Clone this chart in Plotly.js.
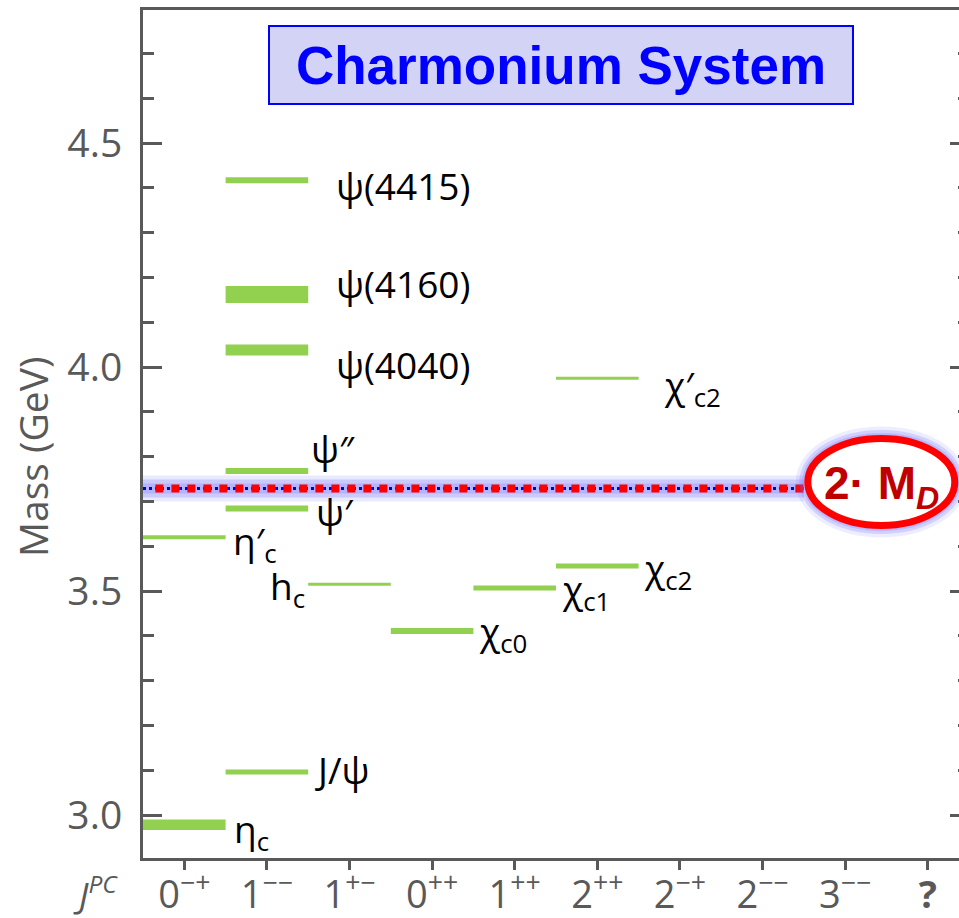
<!DOCTYPE html>
<html>
<head>
<meta charset="utf-8">
<script src="https://cdn.plot.ly/plotly-3.0.1.min.js"></script>
<style>
  html, body { margin: 0; padding: 0; overflow: hidden; background: #ffffff; }
  #chart { width: 985px; height: 918px; }
</style>
</head>
<body>
<div id="chart"></div>
<script>
// ---- data ----
const jpcLabels = ["0<sup>−+</sup>", "1<sup>−−</sup>", "1<sup>+−</sup>", "0<sup>++</sup>", "1<sup>++</sup>",
                   "2<sup>++</sup>", "2<sup>−+</sup>", "2<sup>−−</sup>", "3<sup>−−</sup>", "<b>?</b>"];
const stateNames = ["η<sub>c</sub>", "J/ψ", "η′<sub>c</sub>", "ψ′", "ψ″", "ψ(4040)", "ψ(4160)", "ψ(4415)",
                    "h<sub>c</sub>", "χ<sub>c0</sub>", "χ<sub>c1</sub>", "χ<sub>c2</sub>", "χ′<sub>c2</sub>"];
const stateJpcIndex = [0, 1, 0, 1, 1, 1, 1, 1, 2, 3, 4, 5, 5];
const stateMassGeV = [2.978, 3.096, 3.620, 3.684, 3.768, 4.038, 4.162, 4.417, 3.515, 3.411, 3.507, 3.556, 3.975];
const twoMD = 3.729;
const yTickVals = [3.0, 3.5, 4.0, 4.5];
const yTickText = ["3.0", "3.5", "4.0", "4.5"];

// ---- styles (not data) ----
const levelLineWidth = [10.5, 5, 4, 6, 6, 11, 17, 6, 3, 6, 5, 5, 3];
// label offsets in px: [xshift, yshift, side]
const labelStyle = [
  [6, -6, "r"], [5, 2, "r"], [5, -6, "r"], [6, -3, "r"], [1, 22, "r"], [26, -14, "r"], [26, 11, "r"],
  [26, -5, "r"], [-1, -4, "l"], [4, -2, "r"], [4, -3, "r"], [3, -4, "r"], [23, -9, "r"]
];
const green = "#92d050";
const axisGray = "#595959";

const traces = [];
stateNames.forEach((name, i) => {
  const c = stateJpcIndex[i];
  traces.push({
    type: "scatter", mode: "lines",
    x: [c - 0.5, c + 0.5], y: [stateMassGeV[i], stateMassGeV[i]],
    line: { color: green, width: levelLineWidth[i] },
    hoverinfo: "skip", showlegend: false, cliponaxis: true
  });
});

// 2·M_D threshold line with glow
const thrX = [-0.5, 7.5];
const thrY = [twoMD, twoMD];
traces.push({ type: "scatter", mode: "lines", x: thrX, y: thrY, line: { color: "rgba(110,110,255,0.15)", width: 26 }, hoverinfo: "skip", showlegend: false });
traces.push({ type: "scatter", mode: "lines", x: thrX, y: thrY, line: { color: "rgba(110,110,255,0.25)", width: 18 }, hoverinfo: "skip", showlegend: false });
traces.push({ type: "scatter", mode: "lines", x: thrX, y: thrY, line: { color: "rgba(110,110,255,0.25)", width: 10 }, hoverinfo: "skip", showlegend: false });
traces.push({ type: "scatter", mode: "lines", x: thrX, y: thrY, line: { color: "#0000dd", width: 3, dash: "3px,3px" }, hoverinfo: "skip", showlegend: false });
traces.push({ type: "scatter", mode: "lines", x: [-0.35, 7.5], y: thrY, line: { color: "#ff0000", width: 8, dash: "8px,8px" }, hoverinfo: "skip", showlegend: false });

const annotations = stateNames.map((name, i) => {
  const c = stateJpcIndex[i];
  const st = labelStyle[i];
  const right = st[2] === "r";
  return {
    x: right ? c + 0.5 : c - 0.5, y: stateMassGeV[i], xref: "x", yref: "y",
    text: name, showarrow: false,
    xanchor: right ? "left" : "right", yanchor: "middle",
    xshift: st[0], yshift: st[1],
    font: { family: "Open Sans", size: 37, color: "#000000" }
  };
});

annotations.push({
  x: 0.506, y: 0.935, xref: "paper", yref: "paper",
  text: "<b>Charmonium System</b>", showarrow: false,
  xanchor: "center", yanchor: "middle",
  width: 582, height: 76, borderpad: 0,
  bgcolor: "#d3d3f5", bordercolor: "#0000ff", borderwidth: 2,
  font: { family: "Liberation Sans", size: 53, color: "#0000ff" }
});
annotations.push({
  x: 7.5, y: twoMD, xref: "x", yref: "y",
  text: "<b>2· M<sub><i>D</i></sub></b>", showarrow: false,
  xanchor: "center", yanchor: "middle", xshift: 78, yshift: 2,
  font: { family: "Liberation Sans", size: 46, color: "#c00000" }
});
annotations.push({
  x: -0.058, y: -0.041, xref: "paper", yref: "paper",
  text: "<i>J<sup>PC</sup></i>", showarrow: false,
  xanchor: "center", yanchor: "middle",
  font: { family: "Open Sans", size: 35, color: axisGray }
});
// y-axis title (placed as annotation to match the off-centre position)
annotations.push({
  x: -0.1344, y: 0.474, xref: "paper", yref: "paper",
  text: "Mass (GeV)", showarrow: false, textangle: -90,
  xanchor: "center", yanchor: "middle",
  font: { family: "Open Sans", size: 39, color: axisGray }
});

const ellipse = (w, col, fill) => ({
  type: "circle", xref: "x", yref: "y", xsizemode: "pixel", ysizemode: "pixel",
  xanchor: 7.5, yanchor: twoMD, x0: 4, x1: 151, y0: -37, y1: 50,
  line: { color: col, width: w }, fillcolor: fill, layer: "above"
});
const shapes = [
  ellipse(24, "rgba(110,110,255,0.12)", "rgba(0,0,0,0)"),
  ellipse(17, "rgba(110,110,255,0.22)", "rgba(0,0,0,0)"),
  ellipse(11, "rgba(110,110,255,0.25)", "rgba(0,0,0,0)"),
  ellipse(7, "#ff0000", "#ffffff")
];

const layout = {
  width: 985, height: 918,
  margin: { l: 143, r: 16, t: 10, b: 60 },
  paper_bgcolor: "#ffffff", plot_bgcolor: "#ffffff",
  showlegend: false,
  xaxis: {
    range: [-0.5, 9.5], tickvals: [0, 1, 2, 3, 4, 5, 6, 7, 8, 9], ticktext: jpcLabels,
    ticks: "outside", ticklen: 9, tickwidth: 3, tickcolor: axisGray,
    showline: true, linewidth: 3, linecolor: axisGray, mirror: true,
    showgrid: false, zeroline: false, ticklabelstandoff: -8,
    tickfont: { family: "Open Sans", size: 38, color: axisGray }
  },
  yaxis: {
    range: [2.904, 4.797], tickvals: yTickVals, ticktext: yTickText,
    ticks: "inside", ticklen: 19, tickwidth: 3, tickcolor: axisGray,
    minor: { dtick: 0.1, tick0: 3.0, ticks: "inside", ticklen: 11, tickwidth: 3, tickcolor: axisGray, showgrid: false },
    showline: true, linewidth: 3, linecolor: axisGray, mirror: "ticks",
    showgrid: false, zeroline: false, ticklabelstandoff: 10,
    tickfont: { family: "Open Sans", size: 39, color: axisGray }
  },
  annotations: annotations,
  shapes: shapes
};

Plotly.newPlot("chart", traces, layout, { staticPlot: true, displayModeBar: false });
</script>
</body>
</html>
